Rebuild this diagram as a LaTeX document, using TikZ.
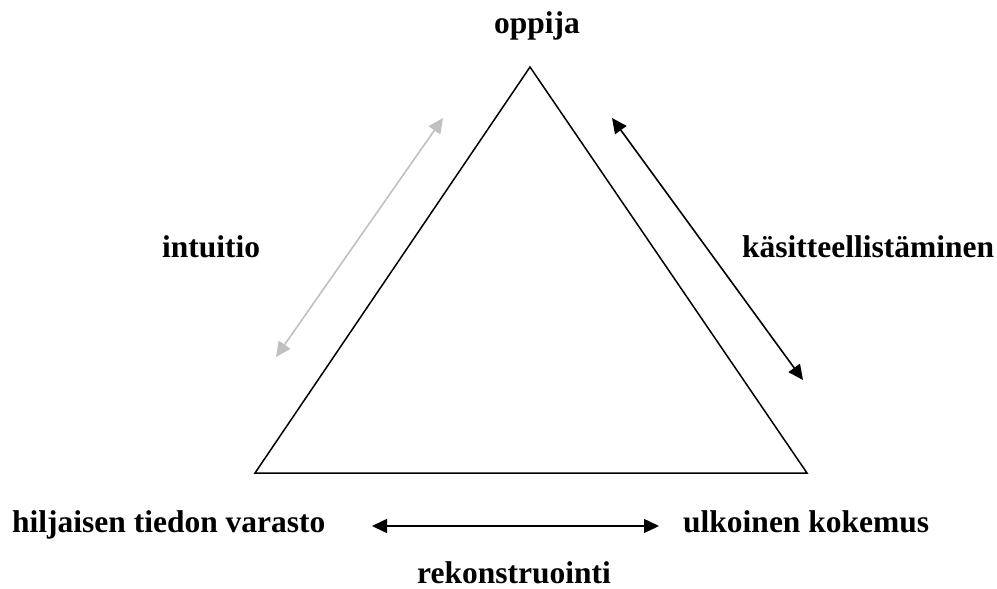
\documentclass[tikz,border=0pt]{standalone}
\usepackage{fontspec}
\setmainfont{Liberation Serif}
\usetikzlibrary{arrows.meta}
\definecolor{trink}{HTML}{000000}
\definecolor{trgrey}{HTML}{C0C0C0}
\tikzset{
  tr label/.style={font=\fontsize{31.5}{36}\selectfont\bfseries, text=trink,
    inner sep=0pt, anchor=base west},
  tr edge/.style={draw=trink, line width=1.5pt, line join=miter},
  tr arrow/.style={{Triangle[length=15pt,width=14pt]}-{Triangle[length=15pt,width=14pt]},
    line width=1.6pt, draw=trink},
  tr faint/.style={tr arrow, draw=trgrey}
}

\begin{document}
\begin{tikzpicture}[x=1pt, y=-1pt]
  \useasboundingbox (0,0) rectangle (997,589);
  % triangle
  \coordinate (top) at (530,67);
  \coordinate (left) at (255,473);
  \coordinate (right) at (807,473);
  \draw[tr edge] (top) -- (left) -- (right) -- cycle;
  % labels
  \node[tr label] (learner) at (494,33) {oppija};
  \node[tr label] (store) at (12,532) {hiljaisen tiedon varasto};
  \node[tr label] (outer) at (683,532) {ulkoinen kokemus};
  \node[tr label] (intuit) at (162,257) {intuitio};
  \node[tr label] (concept) at (742,257) {käsitteellistäminen};
  \node[tr label] (recon) at (417,583) {rekonstruointi};
  % arrow ends
  \coordinate (intuitA) at (276,357);
  \coordinate (intuitB) at (443,118);
  \coordinate (conceptA) at (612,118);
  \coordinate (conceptB) at (803,380);
  \coordinate (reconA) at (372,526);
  \coordinate (reconB) at (659,526);
  \draw[tr faint] (intuitA) -- (intuitB);
  \draw[tr arrow] (conceptA) -- (conceptB);
  \draw[tr arrow] (reconA) -- (reconB);
\end{tikzpicture}
\end{document}
